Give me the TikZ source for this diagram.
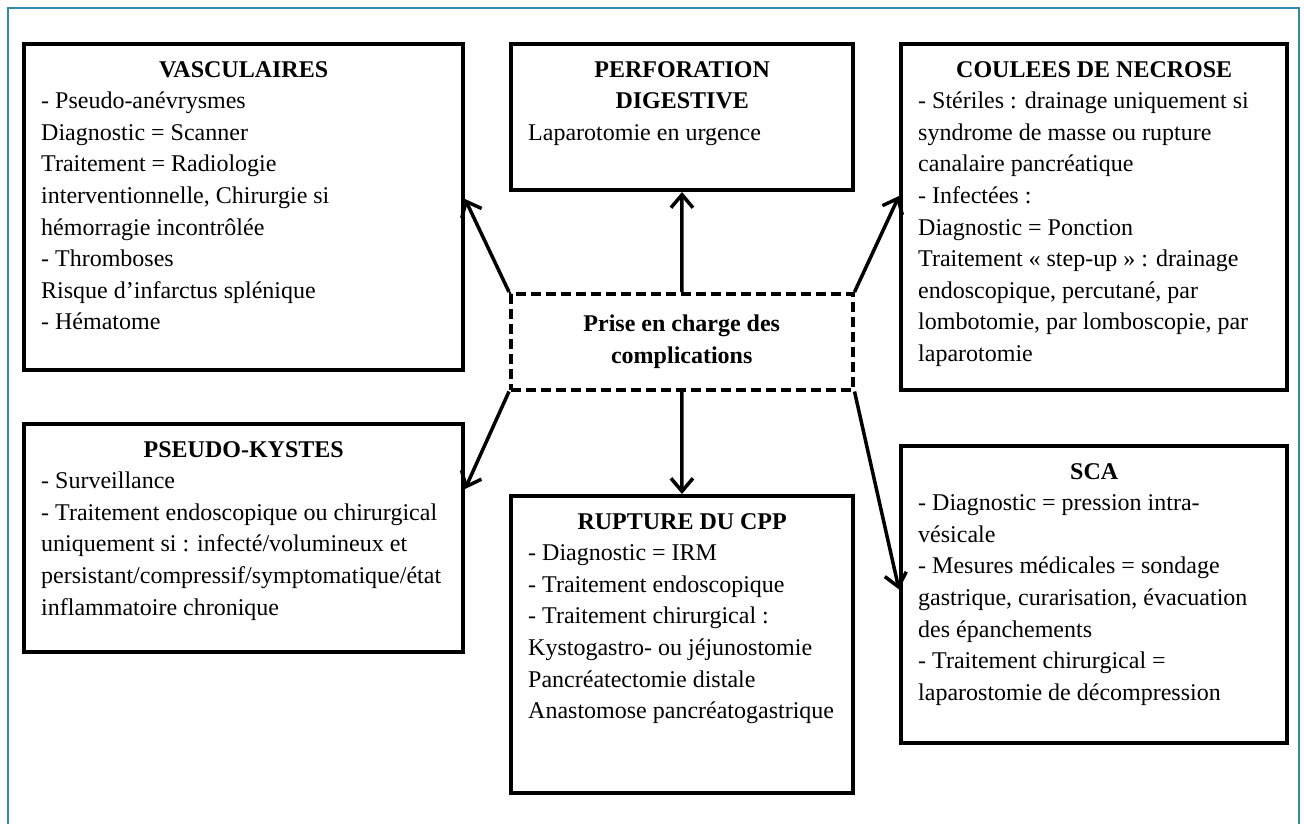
\documentclass[tikz,border=0pt]{standalone}
\usepackage{fontspec}
\setmainfont{Liberation Serif}
\usepackage{tikz}
\usetikzlibrary{arrows.meta}
\definecolor{cadrebleu}{RGB}{52,136,170}
\setlength{\parindent}{0pt}
\newcommand{\titre}[1]{{\centering\bfseries #1\par}}

\begin{document}
\begin{tikzpicture}[x=1pt, y=-1pt,
    boite/.style={draw=black, line width=4pt, inner sep=0pt, anchor=north west},
    pointille/.style={boite, line width=3.5pt, dash pattern=on 10pt off 5pt},
    texte/.style={inner sep=0pt, anchor=north west, align=flush left, font=\fontsize{24pt}{31.6pt}\selectfont},
    fleche/.style={line width=3.5pt, -{Straight Barb[length=13pt, width=22pt]}}
]
\useasboundingbox (0,0) rectangle (1304,823);
\draw[cadrebleu, line width=1.5pt] (8,830) -- (8,8) -- (1299,8) -- (1299,830);

\node[boite, minimum width=439pt, minimum height=326pt] (vasc) at (22,42) {};
\node[boite, minimum width=342pt, minimum height=146pt] (perfo) at (509,42) {};
\node[boite, minimum width=386pt, minimum height=346pt] (necro) at (899,42) {};
\node[boite, minimum width=439pt, minimum height=228pt] (kyste) at (22,422) {};
\node[boite, minimum width=342pt, minimum height=297pt] (cpp) at (509,494) {};
\node[boite, minimum width=386pt, minimum height=297pt] (sca) at (899,444) {};
\node[pointille, minimum width=342pt, minimum height=96pt, align=center,
      font=\fontsize{24pt}{31.6pt}\selectfont\bfseries] (prise) at (509,292) {Prise en charge des\\complications};

\node[texte, text width=405pt] (vasctxt) at ([xshift=19pt, yshift=-19pt]vasc.north west)
  {\titre{VASCULAIRES}- Pseudo-anévrysmes\\Diagnostic = Scanner\\Traitement = Radiologie\\interventionnelle, Chirurgie si\\hémorragie incontrôlée\\- Thromboses\\Risque d’infarctus splénique\\- Hématome};
\node[texte, text width=308pt] (perfotxt) at ([xshift=19pt, yshift=-19pt]perfo.north west)
  {\titre{PERFORATION\\DIGESTIVE}Laparotomie en urgence};
\node[texte, text width=352pt] (necrotxt) at ([xshift=19pt, yshift=-19pt]necro.north west)
  {\titre{COULEES DE NECROSE}- Stériles : drainage uniquement si\\syndrome de masse ou rupture\\canalaire pancréatique\\- Infectées :\\Diagnostic = Ponction\\Traitement « step-up » : drainage\\endoscopique, percutané, par\\lombotomie, par lomboscopie, par\\laparotomie};
\node[texte, text width=405pt] (kystetxt) at ([xshift=19pt, yshift=-19pt]kyste.north west)
  {\titre{PSEUDO-KYSTES}- Surveillance\\- Traitement endoscopique ou chirurgical\\uniquement si : infecté/volumineux et\\persistant/compressif/symptomatique/état\\inflammatoire chronique};
\node[texte, text width=308pt] (cpptxt) at ([xshift=19pt, yshift=-19pt]cpp.north west)
  {\titre{RUPTURE DU CPP}- Diagnostic = IRM\\- Traitement endoscopique\\- Traitement chirurgical :\\Kystogastro- ou jéjunostomie\\Pancréatectomie distale\\Anastomose pancréatogastrique};
\node[texte, text width=352pt] (scatxt) at ([xshift=19pt, yshift=-19pt]sca.north west)
  {\titre{SCA}- Diagnostic = pression intra-\\vésicale\\- Mesures médicales = sondage\\gastrique, curarisation, évacuation\\des épanchements\\- Traitement chirurgical =\\laparostomie de décompression};

\draw[fleche] (prise.north west) -- ([yshift=8pt]vasc.east);
\draw[fleche] (prise.north) -- (perfo.south);
\draw[fleche] (prise.north east) -- ([yshift=21pt]necro.west);
\draw[fleche] (prise.south west) -- ([yshift=49pt]kyste.east);
\draw[fleche] (prise.south) -- (cpp.north);
\draw[fleche] (prise.south east) -- ([yshift=5pt]sca.west);
\end{tikzpicture}
\end{document}
